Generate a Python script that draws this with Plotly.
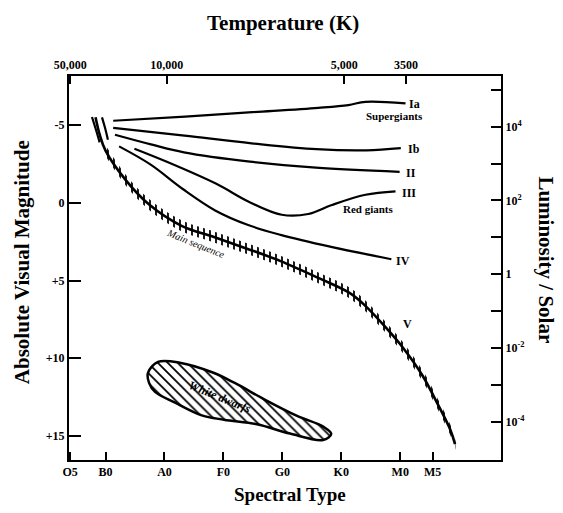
import numpy as np
import plotly.graph_objects as go

# ---- axis data ----
spectral_labels = ["O5", "B0", "A0", "F0", "G0", "K0", "M0", "M5"]
spectral_pos = [-0.6, 0, 1, 2, 3, 4, 5, 5.55]

temp_labels = ["50,000", "10,000", "5,000", "3500"]
temp_pos = [-0.6, 1.04, 4.05, 5.10]

mag_ticks = [-5, 0, 5, 10, 15]
mag_labels = ["-5", "0", "+5", "+10", "+15"]

lum_ticks = [1e-4, 1e-3, 1e-2, 1e-1, 1, 1e1, 1e2, 1e3, 1e4, 1e5]
lum_labels = ["10<sup>-4</sup>", "", "10<sup>-2</sup>", "", "1", "",
              "10<sup>2</sup>", "", "10<sup>4</sup>", ""]

# ---- curves (spectral position, absolute magnitude) ----
ia_s = [0.13, 1.35, 2.49, 3.61, 4.12, 4.41, 5.09]
ia_m = [-5.28, -5.55, -5.83, -6.11, -6.29, -6.50, -6.40]

ib_s = [0.13, 1.34, 2.48, 3.58, 4.43, 5.01]
ib_m = [-4.82, -4.32, -3.83, -3.45, -3.38, -3.52]

ii_s = [0.16, 0.77, 1.33, 2.45, 3.57, 4.99]
ii_m = [-4.38, -3.76, -3.25, -2.65, -2.26, -1.99]

iii_s = [0.49, 1.04, 1.88, 2.43, 2.99, 3.44, 3.84, 4.41, 4.92]
iii_m = [-3.48, -2.64, -1.22, -0.07, 0.77, 0.72, 0.14, -0.52, -0.74]

iv_s = [0.23, 0.76, 1.31, 1.86, 2.42, 2.97, 3.81, 4.85]
iv_m = [-3.63, -2.47, -0.89, 0.49, 1.43, 2.06, 2.82, 3.63]

ms_s = [-0.17, -0.10, 0.0, 0.35, 0.74, 1.29, 1.84, 2.40, 2.97, 3.62,
        4.14, 4.40, 4.78, 5.05, 5.38, 5.63, 5.85, 5.93]
ms_m = [-5.51, -4.40, -3.36, -1.43, 0.11, 1.48, 2.20, 2.95, 3.75, 4.85,
        5.80, 6.60, 8.13, 9.34, 11.13, 12.91, 14.61, 15.53]

arc_a_s = [-0.23, -0.15, -0.10]
arc_a_m = [-5.52, -4.54, -3.89]
arc_c_s = [-0.06, -0.01, 0.04]
arc_c_m = [-5.50, -4.84, -4.06]

wd_s = [0.72, 0.89, 1.26, 1.82, 2.20, 2.70, 3.25, 3.70, 3.83, 3.69,
        3.13, 2.57, 2.01, 1.62, 1.18, 0.84, 0.74, 0.72]
wd_m = [10.94, 10.24, 10.29, 10.92, 11.61, 12.66, 13.71, 14.42, 14.87, 15.26,
        14.85, 14.25, 13.96, 13.66, 12.86, 12.17, 11.60, 10.94]

SERIF = "Liberation Serif"
fig = go.Figure()

# main sequence hatched band
band_half = 0.35
ms_s_arr = np.array(ms_s[2:])
ms_m_arr = np.array(ms_m[2:])
fig.add_trace(go.Scatter(
    x=np.concatenate([ms_s_arr, ms_s_arr[::-1]]),
    y=np.concatenate([ms_m_arr - band_half, (ms_m_arr + band_half)[::-1]]),
    mode="lines", line=dict(width=0, shape="spline", color="black"),
    fill="toself", fillcolor="rgba(0,0,0,0)",
    fillpattern=dict(shape="|", size=6, solidity=0.3, fgcolor="black",
                     bgcolor="rgba(0,0,0,0)", fillmode="replace"),
    hoverinfo="skip", showlegend=False))

line_style = dict(color="black", width=2.2, shape="spline")
for xs, ys in [(ia_s, ia_m), (ib_s, ib_m), (ii_s, ii_m), (iii_s, iii_m),
               (iv_s, iv_m), (arc_a_s, arc_a_m), (arc_c_s, arc_c_m)]:
    fig.add_trace(go.Scatter(x=xs, y=ys, mode="lines", line=line_style,
                             hoverinfo="skip", showlegend=False))

fig.add_trace(go.Scatter(x=ms_s, y=ms_m, mode="lines",
                         line=dict(color="black", width=2.6, shape="spline"),
                         hoverinfo="skip", showlegend=False))

# white dwarfs
fig.add_trace(go.Scatter(
    x=wd_s, y=wd_m, mode="lines",
    line=dict(color="black", width=2.5, shape="spline"),
    fill="toself", fillcolor="white",
    fillpattern=dict(shape="\\", size=7, solidity=0.25, fgcolor="black",
                     bgcolor="white", fillmode="replace"),
    hoverinfo="skip", showlegend=False))

# dummy trace to carry the secondary axes
fig.add_trace(go.Scatter(x=[temp_pos[1]], y=[lum_ticks[4]], xaxis="x2", yaxis="y2",
                         mode="markers", marker=dict(opacity=0),
                         hoverinfo="skip", showlegend=False))

tick_font = dict(family=SERIF, size=12, color="black", weight="bold")
common = dict(showgrid=False, zeroline=False, showline=True, linecolor="black",
              linewidth=2, ticks="inside", tickcolor="black", tickwidth=1.5,
              tickfont=tick_font)

x_range = [-0.62, 6.71]
fig.update_layout(
    width=563, height=513,
    margin=dict(l=69, r=62, t=76, b=53),
    paper_bgcolor="white", plot_bgcolor="white",
    xaxis=dict(range=x_range, tickmode="array", tickvals=spectral_pos,
               ticktext=spectral_labels, ticklen=8, **common),
    xaxis2=dict(range=x_range, overlaying="x", side="top", anchor="y2",
                tickmode="array", tickvals=temp_pos, ticktext=temp_labels,
                ticklen=8, **common),
    yaxis=dict(range=[16.55, -8.16], tickmode="array", tickvals=mag_ticks,
               ticktext=mag_labels, ticklen=12, **common),
    yaxis2=dict(type="log", range=[-5.03, 5.37], overlaying="y", side="right",
                anchor="x2", tickmode="array", tickvals=lum_ticks,
                ticktext=lum_labels, ticklen=10, **common),
)

ann = []
def title(text, x, y, size, angle=0):
    ann.append(dict(text="<b>%s</b>" % text, xref="paper", yref="paper",
                    x=x, y=y, xanchor="center", yanchor="middle",
                    showarrow=False, textangle=angle,
                    font=dict(family=SERIF, size=size, color="black")))

title("Temperature (K)", 0.495, 1.139, 21)
title("Spectral Type", 0.512, -0.09, 19)
title("Absolute Visual Magnitude", -0.109, 0.515, 21, -90)
title("Luminosity / Solar", 1.104, 0.52, 21, 90)

label_font = dict(family=SERIF, size=12, color="black", weight="bold")
small_font = dict(family=SERIF, size=11, color="black", weight="bold")
curve_labels = [
    ("Ia", 5.25, -6.38, label_font, 0),
    ("Supergiants", 4.91, -5.60, small_font, 0),
    ("Ib", 5.23, -3.49, label_font, 0),
    ("II", 5.18, -1.94, label_font, 0),
    ("III", 5.15, -0.65, label_font, 0),
    ("Red giants", 4.46, 0.41, small_font, 0),
    ("IV", 5.04, 3.72, label_font, 0),
    ("V", 5.12, 7.79, label_font, 0),
    ("<i>Main sequence</i>", 1.53, 2.61, dict(family=SERIF, size=10, color="black"), 22),
    ("<i>White dwarfs</i>", 1.94, 12.48,
     dict(family=SERIF, size=12, color="black", weight="bold"), 22),
]
for t, xs, ys, f, ang in curve_labels:
    ann.append(dict(text=t, x=xs, y=ys, xref="x", yref="y", showarrow=False,
                    xanchor="center", yanchor="middle", font=f, textangle=ang))
fig.update_layout(annotations=ann)

fig.write_html("out.html", config={"displayModeBar": False},
               post_script="document.body.style.margin='0px';")
